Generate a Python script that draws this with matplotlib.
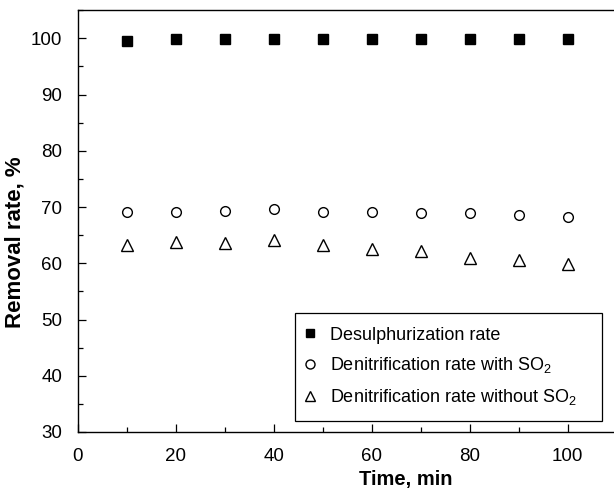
import matplotlib
matplotlib.use("Agg")
import matplotlib.pyplot as plt
from matplotlib.ticker import MultipleLocator

plt.rcParams['font.family'] = ['Liberation Sans', 'DejaVu Sans']
plt.rcParams['mathtext.fontset'] = 'custom'
plt.rcParams['mathtext.rm'] = 'Liberation Sans'
plt.rcParams['mathtext.it'] = 'Liberation Sans:italic'
plt.rcParams['mathtext.bf'] = 'Liberation Sans:bold'

time_min = [10, 20, 30, 40, 50, 60, 70, 80, 90, 100]
desulphurization = [99.6, 99.8, 99.9, 99.9, 99.9, 99.9, 99.9, 99.8, 99.8, 99.8]
denitr_with_so2 = [69.2, 69.2, 69.3, 69.6, 69.2, 69.1, 69.0, 68.9, 68.6, 68.2]
denitr_without_so2 = [63.3, 63.8, 63.6, 64.1, 63.2, 62.6, 62.2, 60.9, 60.6, 59.9]
labels = ["Desulphurization rate",
          "Denitrification rate with SO$_2$",
          "Denitrification rate without SO$_2$"]

fig = plt.figure(figsize=(6.14, 4.92), dpi=100)
ax = fig.add_axes([77.7/614, 60/492, 539/614, 421.8/492])

ax.plot(time_min, desulphurization, linestyle='none', marker='s', ms=7,
        mfc='black', mec='black', label=labels[0])
ax.plot(time_min, denitr_with_so2, linestyle='none', marker='o', ms=7,
        mfc='white', mec='black', mew=1.0, label=labels[1])
ax.plot(time_min, denitr_without_so2, linestyle='none', marker='^', ms=8,
        mfc='white', mec='black', mew=1.0, label=labels[2])

ax.set_xlim(0, 110)
ax.set_ylim(30, 105)
ax.xaxis.set_minor_locator(MultipleLocator(10))
ax.yaxis.set_minor_locator(MultipleLocator(5))
ax.set_xticks([0, 20, 40, 60, 80, 100])
ax.set_yticks([30, 40, 50, 60, 70, 80, 90, 100])

ax.tick_params(which='both', direction='in', labelsize=13.5, width=0.9)
ax.tick_params(which='major', length=6)
ax.tick_params(which='minor', length=3.5)
ax.tick_params(axis='x', which='both', top=False, pad=11.5)
ax.tick_params(axis='y', which='both', right=False, pad=11)
ax.spines['right'].set_visible(False)
for s in ['left', 'bottom', 'top']:
    ax.spines[s].set_linewidth(1.0)

ax.set_xlabel("Time, min", fontsize=14.5, fontweight='bold', va='center')
ax.xaxis.set_label_coords(67/110, -(479 - 432)/421.8)
ax.set_ylabel("Removal rate, %", fontsize=16, fontweight='bold', va='center')
ax.yaxis.set_label_coords((15 - 77.7)/539, 0.45)

leg = ax.legend(loc='upper left',
                bbox_to_anchor=(295/614, (492 - 423)/492, 307/614, 110/492),
                bbox_transform=fig.transFigure, borderaxespad=0, mode='expand',
                fontsize=13, frameon=True, fancybox=False, framealpha=1,
                edgecolor='black', handletextpad=0.97, handlelength=0.2,
                labelspacing=0.65, borderpad=0.75)
leg.get_frame().set_linewidth(0.9)
for h, m in zip(leg.legend_handles, [6, 6.5, 7.5]):
    h.set_markersize(m)

fig.savefig("out.png", dpi=100)
